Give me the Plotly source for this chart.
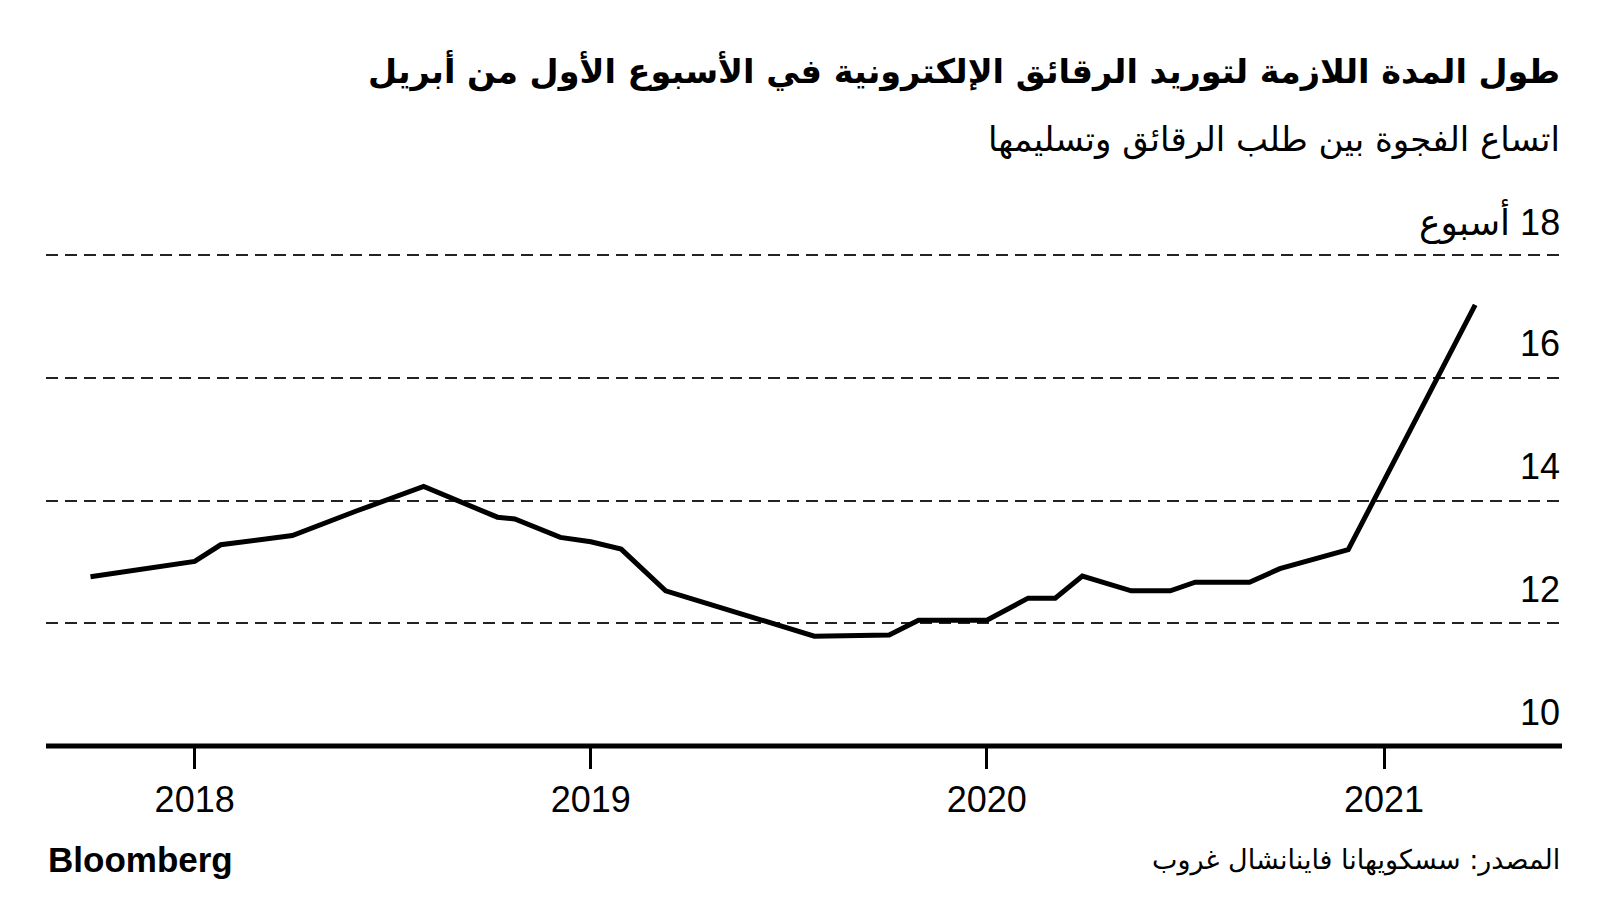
import plotly.graph_objects as go

# ---- data ----
dates = ["2017-09-27", "2018-01-01", "2018-01-25", "2018-04-01", "2018-05-30",
         "2018-07-31", "2018-10-07", "2018-10-23", "2018-12-04", "2019-01-01",
         "2019-01-29", "2019-03-11", "2019-07-26", "2019-10-03", "2019-10-30",
         "2020-01-01", "2020-02-08", "2020-03-04", "2020-03-29", "2020-05-13",
         "2020-06-18", "2020-07-11", "2020-08-30", "2020-09-27", "2020-11-29",
         "2021-03-26"]
lead_weeks = [12.76, 13.01, 13.28, 13.43, 13.83,
              14.23, 13.73, 13.70, 13.40, 13.33,
              13.21, 12.53, 11.79, 11.81, 12.05,
              12.05, 12.41, 12.41, 12.77, 12.53,
              12.53, 12.67, 12.67, 12.89, 13.20,
              17.19]

x_tick_vals = ["2018-01-01", "2019-01-01", "2020-01-01", "2021-01-01"]
x_tick_text = ["2018", "2019", "2020", "2021"]
y_tick_vals = [10, 12, 14, 16, 18]
y_tick_text = ["10", "12", "14", "16", "\u200f18 أسبوع"]

title = "طول المدة اللازمة لتوريد الرقائق الإلكترونية في الأسبوع الأول من أبريل"
subtitle = "اتساع الفجوة بين طلب الرقائق وتسليمها"
source = "المصدر: سسكويهانا فاينانشال غروب"

AR_FONT = "DejaVu Sans"
NUM_FONT = "Liberation Sans"

fig = go.Figure()
fig.add_trace(go.Scatter(
    x=dates, y=lead_weeks, mode="lines",
    line=dict(color="black", width=5, shape="linear"),
    hoverinfo="skip", showlegend=False,
))

# thick baseline along the bottom of the plot (paper refs so it is not clipped)
fig.add_shape(type="line", xref="paper", x0=0, x1=1, yref="paper",
              y0=0, y1=0, line=dict(color="black", width=5), layer="above")

annotations = []
for v, t in zip(y_tick_vals, y_tick_text):
    annotations.append(dict(
        x=1, xref="paper", y=v, yref="y", xanchor="right", yanchor="middle",
        yshift=34, text=t, showarrow=False,
        font=dict(family=NUM_FONT + ", " + AR_FONT, size=36, color="black"),
    ))

annotations += [
    dict(x=1, xref="paper", y=1.3735, yref="paper", xanchor="right", yanchor="middle",
         text="<b>" + title + "</b>", showarrow=False,
         font=dict(family=AR_FONT, size=33.5, color="black")),
    dict(x=1, xref="paper", y=1.2330, yref="paper", xanchor="right", yanchor="middle",
         text=subtitle, showarrow=False,
         font=dict(family=AR_FONT, size=34, color="black")),
    dict(x=1, xref="paper", y=-0.2315, yref="paper", xanchor="right", yanchor="middle",
         text=source, showarrow=False,
         font=dict(family=AR_FONT, size=27, color="black")),
    dict(x=0, xref="paper", y=-0.2315, yref="paper", xanchor="left", yanchor="middle",
         text="<b>Bloomberg</b>", showarrow=False,
         font=dict(family=NUM_FONT, size=35, color="black")),
]

fig.update_layout(
    width=1600, height=900,
    margin=dict(l=38, r=46, t=246, b=162),
    paper_bgcolor="white", plot_bgcolor="white",
    annotations=annotations,
    showlegend=False,
)
fig.update_xaxes(
    type="date", range=["2017-08-17", "2021-06-14"],
    tickvals=x_tick_vals, ticktext=x_tick_text,
    ticks="outside", ticklen=22, tickwidth=2.5, tickcolor="black",
    showline=False, showgrid=False, zeroline=False,
    tickfont=dict(family=NUM_FONT, size=36, color="black"),
)
fig.update_yaxes(
    range=[10, 18.02], tickvals=y_tick_vals, showticklabels=False,
    showgrid=True, gridcolor="#222222", gridwidth=1.5, griddash="12px,7px",
    zeroline=False, showline=False, ticks="",
)

fig.write_html("out.html")
